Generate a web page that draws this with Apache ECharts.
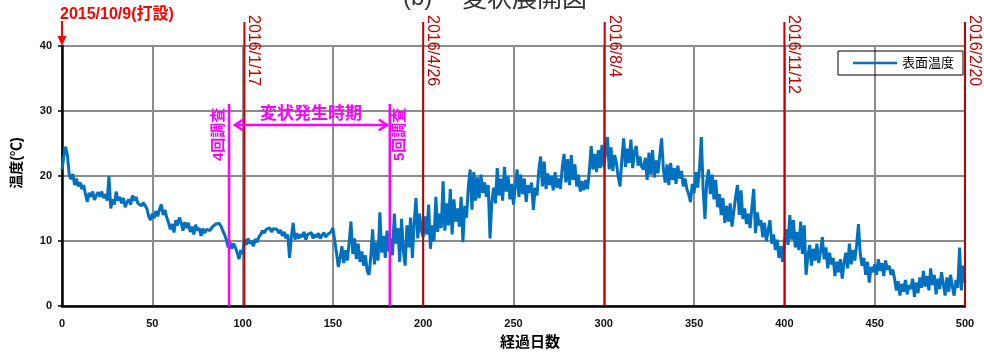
<!DOCTYPE html>
<html><head><meta charset="utf-8">
<script src="https://cdn.jsdelivr.net/npm/echarts@6/dist/echarts.min.js"></script>
<style>html,body{margin:0;padding:0;background:#fff}#c{width:984px;height:352px}</style>
</head><body><div id="c"></div>
<script>
// Surface temperature per elapsed day (day 0 .. 500)
const temps = [
21.0,23.0,24.5,23.2,20.2,19.5,20.3,18.6,19.6,18.4,
19.0,18.0,18.6,17.2,16.0,17.4,16.8,17.6,16.3,17.0,
17.5,16.8,17.6,16.6,17.2,16.2,20.0,15.0,16.4,15.6,
17.6,16.2,16.8,15.8,16.6,15.2,16.0,16.4,15.6,17.0,
16.2,16.8,15.8,16.0,15.4,15.9,15.6,15.0,13.8,13.2,
14.2,13.5,14.6,13.8,14.9,15.6,14.0,14.8,13.6,12.8,
11.8,12.6,11.3,13.2,12.4,13.6,12.8,11.6,12.9,12.0,
12.8,11.4,12.2,11.0,12.5,11.6,12.0,10.8,11.9,11.2,
11.8,12.0,11.6,12.1,12.3,12.6,12.8,12.7,12.3,11.6,
11.0,10.2,9.0,9.8,8.8,9.6,9.0,8.2,7.2,8.6,
8.0,10.2,9.4,10.4,9.6,10.0,9.2,10.3,9.8,10.6,
11.0,11.6,11.2,11.8,11.5,12.0,11.4,11.9,11.6,11.8,
11.2,11.7,10.8,11.4,10.4,11.0,7.4,10.6,12.8,10.2,
11.2,10.4,11.0,10.6,11.4,10.2,11.0,10.8,11.3,10.4,
11.0,10.6,11.2,10.4,10.9,11.3,10.6,11.0,11.2,11.4,
12.0,10.0,8.2,6.0,7.4,9.2,6.6,8.6,7.0,9.8,
13.0,8.0,10.4,7.2,9.6,6.8,8.4,6.2,7.8,5.4,
4.8,7.6,11.8,6.4,9.8,7.0,14.4,8.2,10.8,7.4,
11.6,8.4,10.4,7.8,14.2,9.6,12.0,6.8,13.4,8.6,
6.2,12.4,9.0,13.6,7.4,12.8,16.6,10.4,14.2,11.6,
10.6,13.8,11.0,15.6,8.8,12.4,10.0,16.8,11.4,14.2,
12.0,19.2,11.6,15.8,12.4,18.0,11.0,16.4,13.0,15.0,
12.2,16.8,9.8,15.4,13.6,18.4,21.0,14.8,20.6,16.2,
19.8,16.6,20.2,17.4,19.0,16.8,18.6,10.4,16.0,18.2,
15.8,21.2,17.0,19.6,16.2,21.4,17.6,20.0,16.4,18.8,
15.6,18.4,21.0,16.8,20.2,17.2,19.6,16.0,18.6,17.4,
19.0,14.8,18.2,17.0,20.8,23.0,18.4,22.2,18.0,20.4,
18.6,20.0,17.8,20.6,18.2,19.6,18.0,21.4,23.4,19.0,
22.6,18.6,23.2,19.4,21.8,18.4,20.2,17.6,19.2,17.8,
19.4,18.0,20.8,24.6,21.0,23.4,20.6,24.0,21.2,24.8,
21.4,23.6,26.0,21.0,24.4,20.8,23.2,22.0,19.8,18.4,
22.6,25.8,21.4,24.2,22.0,25.6,21.2,23.8,24.6,21.6,
23.0,21.4,21.0,22.8,19.4,23.6,20.2,24.0,19.8,22.4,
20.4,23.2,25.8,21.0,19.0,21.8,18.6,22.0,19.4,21.2,
18.8,21.6,19.6,20.8,18.4,19.6,18.0,17.2,16.0,18.8,
17.4,20.6,18.2,21.2,26.0,18.0,13.4,19.2,21.0,17.2,
20.2,16.4,19.4,15.2,17.2,14.0,16.6,12.8,15.4,13.0,
15.8,12.2,14.6,16.8,18.6,14.0,17.8,13.4,15.0,12.6,
14.2,12.0,15.2,18.0,11.2,14.4,12.4,13.2,10.6,12.8,
10.0,11.6,13.2,9.6,11.0,8.6,10.2,7.4,9.2,6.8,
9.8,11.8,9.4,14.0,10.2,13.2,9.0,11.4,8.6,13.0,
8.0,12.4,4.8,7.6,9.4,6.2,8.8,7.0,9.6,6.6,
8.4,10.6,7.2,9.0,5.8,8.2,6.4,7.4,4.6,6.8,
5.2,7.2,4.2,6.6,8.2,5.8,9.6,6.4,8.6,7.0,
9.4,12.6,8.0,6.2,7.4,4.8,6.8,3.6,6.0,5.2,
6.4,4.8,7.2,5.4,6.6,4.6,7.0,5.6,6.2,4.8,
5.6,4.2,2.4,3.8,1.6,3.4,2.2,4.0,1.8,3.2,
2.6,4.2,1.4,3.6,2.0,4.4,2.8,5.4,3.0,4.6,
2.4,5.8,3.2,4.8,1.8,4.2,2.6,5.2,3.4,1.6,
4.4,2.2,4.8,3.0,1.6,4.0,2.8,9.0,2.4,6.2,
3.6
];
const eventDays = [101, 200, 300.5, 400, 500];
const eventLabels = ['2016/1/17', '2016/4/26', '2016/8/4', '2016/11/12', '2016/2/20'];
const surveyDays = [92.5, 181.5];
const surveyLabels = ['4回調査', '5回調査'];
const startDay = 0;
const startLabel = '2015/10/9(打設)';
const periodLabel = '変状発生時期';
const seriesName = '表面温度';
const xName = '経過日数';
const yName = '温度(℃)';
const titleParts = ['(b)', '変状展開図'];

const F = '"Liberation Sans", "Noto Sans CJK JP", sans-serif';
const chart = echarts.init(document.getElementById('c'));
chart.setOption({
  animation: false,
  grid: { left: 62, right: 19, top: 46, bottom: 46 },
  legend: {
    left: 838, top: 51,
    padding: [5, 9, 5, 15],
    borderColor: '#000', borderWidth: 1,
    icon: 'rect',
    itemWidth: 44, itemHeight: 2.5,
    textStyle: { color: '#000', fontSize: 13, fontFamily: F, lineHeight: 14 },
    data: [seriesName]
  },
  xAxis: {
    type: 'value', min: 0, max: 500, interval: 50,
    axisLine: { lineStyle: { color: '#000', width: 2.5 } },
    axisTick: { show: false },
    axisLabel: { color: '#111', fontWeight: 'bold', fontSize: 11, margin: 12, fontFamily: F },
    splitLine: { show: true, lineStyle: { color: '#8c8c8c', width: 2 } }
  },
  yAxis: {
    type: 'value', min: 0, max: 40, interval: 10,
    axisLine: { show: true, lineStyle: { color: '#000', width: 2.5 } },
    axisTick: { show: true, length: 4, lineStyle: { color: '#000', width: 1.5 } },
    axisLabel: { color: '#111', fontWeight: 'bold', fontSize: 11, margin: 10, fontFamily: F },
    splitLine: { show: true, lineStyle: { color: '#8c8c8c', width: 2 } }
  },
  series: [{
    type: 'line', name: seriesName,
    data: temps.map((v, i) => [i, v]),
    symbol: 'none', showSymbol: false,
    lineStyle: { color: '#0070C0', width: 3 },
    itemStyle: { color: '#0070C0' },
    z: 3
  }]
});

const px = (d, v) => chart.convertToPixel({ gridIndex: 0 }, [d, v]);
const bottomY = px(0, 0)[1];
const g = [];
// red date lines and labels
eventDays.forEach((d, i) => {
  const x = px(d, 0)[0];
  g.push({ type: 'line', shape: { x1: x, y1: 22, x2: x, y2: bottomY }, style: { stroke: '#C00000', lineWidth: 2 }, z: 50 });
  g.push({ type: 'text', x: x + 9.5, y: 15, rotation: -Math.PI / 2,
    style: { text: eventLabels[i], fill: '#C00000', font: '16px ' + F, align: 'left', verticalAlign: 'middle' }, z: 50 });
});
// survey lines and labels
const sx = surveyDays.map(d => px(d, 0)[0]);
sx.forEach((x, i) => {
  g.push({ type: 'line', shape: { x1: x, y1: 104, x2: x, y2: bottomY }, style: { stroke: '#FF00FF', lineWidth: 2.5 }, z: 51 });
  g.push({ type: 'text', x: i === 0 ? x - 10.5 : x + 10, y: 161, rotation: Math.PI / 2,
    style: { text: surveyLabels[i], fill: '#FF00FF', font: 'bold 15px ' + F, align: 'left', verticalAlign: 'middle' }, z: 51 });
});
// double arrow
const ax1 = sx[0] + 5, ax2 = sx[1] - 2, ay = 125;
g.push({ type: 'line', shape: { x1: ax1, y1: ay, x2: ax2, y2: ay }, style: { stroke: '#FF00FF', lineWidth: 2.5 }, z: 51 });
g.push({ type: 'polyline', shape: { points: [[ax1 + 9, ay - 5.5], [ax1 + 1, ay], [ax1 + 9, ay + 5.5]] }, style: { stroke: '#FF00FF', lineWidth: 2.5, fill: null }, z: 51 });
g.push({ type: 'polyline', shape: { points: [[ax2 - 9, ay - 5.5], [ax2 - 1, ay], [ax2 - 9, ay + 5.5]] }, style: { stroke: '#FF00FF', lineWidth: 2.5, fill: null }, z: 51 });
g.push({ type: 'text', x: (ax1 + ax2) / 2, y: 114,
  style: { text: periodLabel, fill: '#FF00FF', font: 'bold 17px ' + F, align: 'center', verticalAlign: 'middle' }, z: 51 });
// start annotation
const s0 = px(startDay, 0)[0];
g.push({ type: 'text', x: s0 - 2, y: 15, style: { text: startLabel, fill: '#FF0000', font: 'bold 16px ' + F, align: 'left', verticalAlign: 'middle' }, z: 52 });
g.push({ type: 'line', shape: { x1: s0, y1: 21, x2: s0, y2: 38 }, style: { stroke: '#FF0000', lineWidth: 2 }, z: 52 });
g.push({ type: 'polygon', shape: { points: [[s0 - 4.5, 36], [s0 + 4.5, 36], [s0, 46]] }, style: { fill: '#FF0000' }, z: 52 });
// title
g.push({ type: 'text', x: 403, y: 10, style: { text: titleParts[0], fill: '#333', font: '24px ' + F, align: 'left', verticalAlign: 'bottom' }, z: 52 });
g.push({ type: 'text', x: 462, y: 10, style: { text: titleParts[1], fill: '#333', font: '25px "Noto Sans CJK JP", sans-serif', align: 'left', verticalAlign: 'bottom' }, z: 52 });
// axis names
g.push({ type: 'text', x: 530, y: 343, style: { text: xName, fill: '#000', font: 'bold 15px ' + F, align: 'center', verticalAlign: 'middle' }, z: 52 });
g.push({ type: 'text', x: 17, y: 163, rotation: Math.PI / 2, style: { text: yName, fill: '#000', font: 'bold 14px ' + F, align: 'center', verticalAlign: 'middle' }, z: 52 });

chart.setOption({ graphic: g });
</script>
</body></html>
